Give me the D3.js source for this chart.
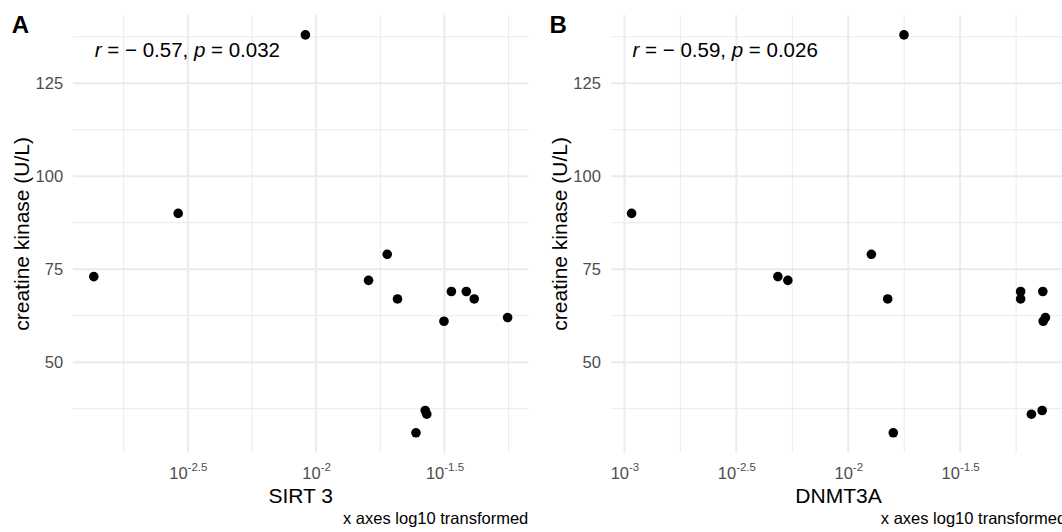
<!DOCTYPE html>
<html>
<head>
<meta charset="utf-8">
<script src="https://cdn.jsdelivr.net/npm/d3@7"></script>
<style>
  body { margin: 0; background: #fff; }
  svg { display: block; font-family: "Liberation Sans", Arial, sans-serif; }
</style>
</head>
<body>
<script>
// Data (same patients in both panels)
const ck = [138, 90, 79, 73, 72, 67, 69, 69, 67, 61, 62, 37, 36, 31];
const sirt3 = [0.00908, 0.0029, 0.01892, 0.00136, 0.016, 0.02075, 0.03365, 0.03846, 0.0413, 0.03148, 0.05572, 0.02661, 0.02698, 0.02449];
const dnmt3a = [0.01774, 0.001076, 0.01268, 0.004847, 0.00537, 0.015, 0.0589, 0.074, 0.0589, 0.0743, 0.076, 0.0735, 0.0658, 0.01589];

const panelTags = ["A", "B"];
const xTitles = ["SIRT 3", "DNMT3A"];
const corText = [["-0.57", "0.032"], ["-0.59", "0.026"]];
const yTicks = [50, 75, 100, 125];
const yMinor = [37.5, 62.5, 87.5, 112.5, 137.5];
const xExpo = [-3, -2.5, -2, -1.5, -1]; // log10 breaks
const xExpoMinor = [-3.25, -2.75, -2.25, -1.75, -1.25];

const W = 1062, H = 532;
const panelW = 537.8;
const plot = { left: 73.1, right: 528.3, top: 15, bottom: 452.7 };

const svg = d3.select("body").append("svg").attr("width", W).attr("height", H);
svg.append("rect").attr("width", W).attr("height", H).attr("fill", "#fff");

// shared y scale with ggplot's 5% expansion
const yExt = d3.extent(ck);
const yPad = (yExt[1] - yExt[0]) * 0.05;
const y = d3.scaleLinear().domain([yExt[0] - yPad, yExt[1] + yPad]).range([plot.bottom, plot.top]);

function drawPanel(i, xs) {
  const g = svg.append("g").attr("transform", "translate(" + i * panelW + ",0)");

  // log x scale, expanded 5% in log space
  const lx = d3.extent(xs).map(Math.log10);
  const lp = (lx[1] - lx[0]) * 0.05;
  const x = d3.scaleLog().domain([Math.pow(10, lx[0] - lp), Math.pow(10, lx[1] + lp)]).range([plot.left, plot.right]);
  const inX = (e) => e >= lx[0] - lp && e <= lx[1] + lp;

  // grid
  const grid = g.append("g");
  grid.selectAll(".ymin").data(yMinor).enter().append("line")
    .attr("x1", plot.left).attr("x2", plot.right)
    .attr("y1", (d) => y(d)).attr("y2", (d) => y(d))
    .attr("stroke", "#ebebeb").attr("stroke-width", 1);
  grid.selectAll(".xmin").data(xExpoMinor.filter(inX)).enter().append("line")
    .attr("x1", (d) => x(Math.pow(10, d))).attr("x2", (d) => x(Math.pow(10, d)))
    .attr("y1", plot.top).attr("y2", plot.bottom)
    .attr("stroke", "#ebebeb").attr("stroke-width", 1);
  grid.selectAll(".ymaj").data(yTicks).enter().append("line")
    .attr("x1", plot.left).attr("x2", plot.right)
    .attr("y1", (d) => y(d)).attr("y2", (d) => y(d))
    .attr("stroke", "#ebebeb").attr("stroke-width", 2);
  grid.selectAll(".xmaj").data(xExpo.filter(inX)).enter().append("line")
    .attr("x1", (d) => x(Math.pow(10, d))).attr("x2", (d) => x(Math.pow(10, d)))
    .attr("y1", plot.top).attr("y2", plot.bottom)
    .attr("stroke", "#ebebeb").attr("stroke-width", 2);

  // y axis
  g.append("g")
    .attr("transform", "translate(" + plot.left + ",0)")
    .call(d3.axisLeft(y).tickValues(yTicks).tickSize(0).tickPadding(10))
    .call((a) => a.select(".domain").remove())
    .call((a) => a.selectAll("text").attr("fill", "#4d4d4d").attr("font-size", 16.5).attr("font-family", null));

  // x axis with 10^e labels
  const xa = g.append("g")
    .attr("transform", "translate(0," + plot.bottom + ")")
    .call(d3.axisBottom(x).tickValues(xExpo.filter(inX).map((e) => Math.pow(10, e))).tickSize(0).tickFormat(""));
  xa.select(".domain").remove();
  xa.selectAll(".tick text").each(function (d) {
    const t = d3.select(this).attr("y", 26.6).attr("dy", null)
      .attr("fill", "#4d4d4d").attr("font-size", 16.5).attr("font-family", null);
    t.append("tspan").text("10");
    t.append("tspan").attr("dy", -8.5).attr("font-size", 11.5)
      .text(String(+Math.log10(d).toFixed(1)));
  });

  // points
  g.selectAll("circle").data(xs).enter().append("circle")
    .attr("cx", (d) => x(d)).attr("cy", (d, j) => y(ck[j]))
    .attr("r", 4.8).attr("fill", "#000");

  // correlation label
  const ct = g.append("text").attr("x", 94.8).attr("y", 57).attr("font-size", 20.5);
  ct.append("tspan").attr("font-style", "italic").text("r");
  ct.append("tspan").text(" = \u2212 " + corText[i][0].slice(1) + ", ");
  ct.append("tspan").attr("font-style", "italic").text("p");
  ct.append("tspan").text(" = " + corText[i][1]);

  // titles
  g.append("text").attr("x", 11.7).attr("y", 33.3)
    .attr("font-size", 24).attr("font-weight", "bold").text(panelTags[i]);
  g.append("text").attr("x", (plot.left + plot.right) / 2).attr("y", 502.7)
    .attr("text-anchor", "middle").attr("font-size", 21).text(xTitles[i]);
  g.append("text")
    .attr("transform", "translate(29," + (plot.top + plot.bottom) / 2 + ") rotate(-90)")
    .attr("text-anchor", "middle").attr("font-size", 21).text("creatine kinase (U/L)");
  g.append("text").attr("x", plot.right).attr("y", 524)
    .attr("text-anchor", "end").attr("font-size", 16.5).text("x axes log10 transformed");
}

drawPanel(0, sirt3);
drawPanel(1, dnmt3a);
</script>
</body>
</html>
